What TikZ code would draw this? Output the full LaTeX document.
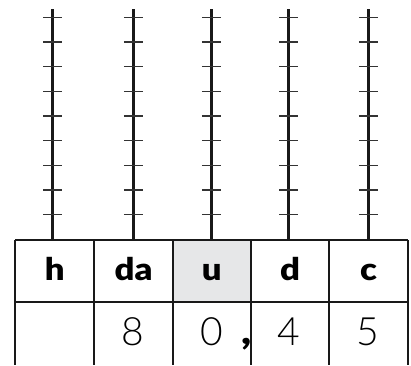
\documentclass[tikz,border=0pt]{standalone}
\usepackage{fontspec}
\setmainfont{Lato}
\newfontfamily\hdrfont[FakeStretch=1.12]{Lato Black}
\newfontfamily\litefont{Lato Light}
\definecolor{cellgray}{HTML}{E6E7E8}
\begin{document}
\begin{tikzpicture}[x=1pt,y=-1pt,
  rod/.style={line width=2.6pt,black!90},
  tick/.style={line width=1.6pt,black!80},
  grid/.style={line width=1.8pt,black!90},
  hdr/.style={font=\hdrfont\fontsize{31}{31}\selectfont,anchor=base},
  dig/.style={font=\litefont\fontsize{39}{39}\selectfont,anchor=base}]
\useasboundingbox (0,0) rectangle (411,365);
% header fill
\fill[cellgray] (173,240) rectangle (250.7,301.7);
% rods
\foreach \x in {52.7,133.3,211.3,288.7,368.3}{
  \draw[rod] (\x,9) -- (\x,240);
  \foreach \k in {0,...,8}{
    \draw[tick] (\x-9.5,17.3+24.67*\k) -- (\x+9.5,17.3+24.67*\k);
  }
}
% table lines
\draw[grid] (15,240) -- (408,240);
\draw[grid] (15,301.7) -- (408,301.7);
\foreach \x in {15,94.3,173,250.7,329.3,408}{
  \draw[grid] (\x,240) -- (\x,365);
}
% header text
\node[hdr] (h) at (54.7,280) {h};
\node[hdr] (da) at (133.7,280) {da};
\node[hdr] (u) at (211.8,280) {u};
\node[hdr] (d) at (290,280) {d};
\node[hdr] (c) at (368.6,280) {c};
% digits
\node[dig] (n8) at (133.3,345) {8};
\node[dig] (n0) at (211.7,345) {0};
\node[dig] (n4) at (289.3,345) {4};
\node[dig] (n5) at (368.3,345) {5};
\node[font=\hdrfont\fontsize{38}{38}\selectfont,anchor=base] (comma) at (246.5,344) {,};
\end{tikzpicture}
\end{document}
